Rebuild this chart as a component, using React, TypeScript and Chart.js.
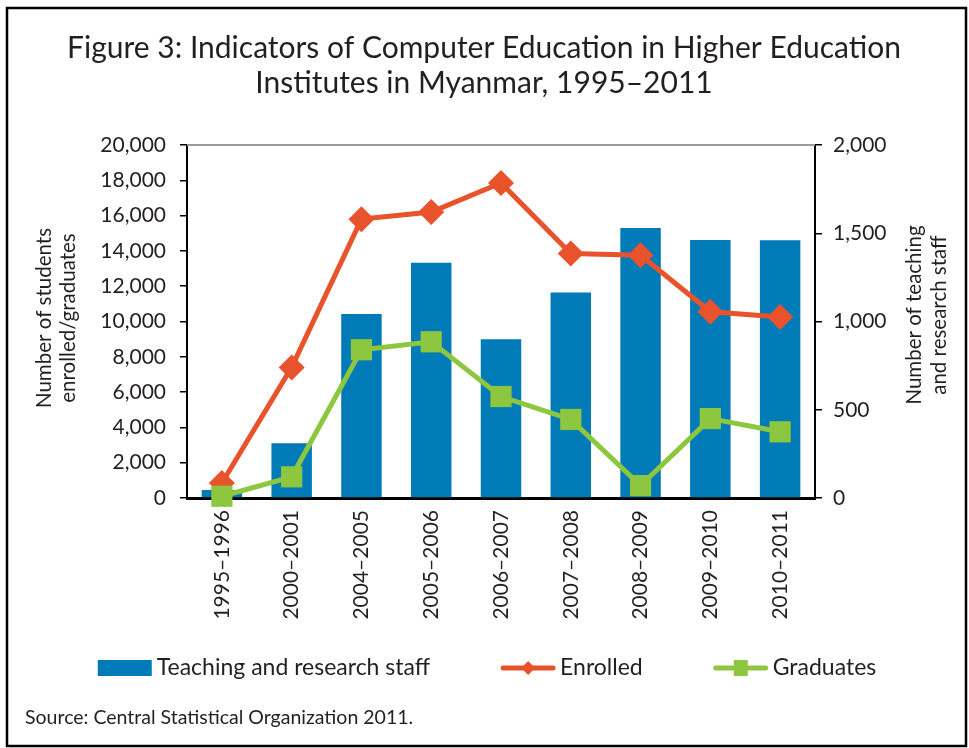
import React, { useEffect, useRef } from 'react';
import { Chart, registerables } from 'chart.js';

Chart.register(...registerables);

const categories = ['1995–1996', '2000–2001', '2004–2005', '2005–2006', '2006–2007', '2007–2008', '2008–2009', '2009–2010', '2010–2011'];
const staff = [45, 310, 1043, 1333, 900, 1165, 1530, 1462, 1460];
const enrolled = [850, 7400, 15800, 16200, 17850, 13850, 13750, 10550, 10250];
const graduates = [100, 1200, 8400, 8850, 5750, 4450, 700, 4500, 3750];

const leftMax = 20000;
const leftStep = 2000;
const rightMax = 2000;
const rightStep = 500;

const seriesNames = ['Teaching and research staff', 'Enrolled', 'Graduates'];
const titleLines = ['Figure 3: Indicators of Computer Education in Higher Education', 'Institutes in Myanmar, 1995–2011'];
const leftAxisTitle = ['Number of students', 'enrolled/graduates'];
const rightAxisTitle = ['Number of teaching', 'and research staff'];
const sourceText = 'Source: Central Statistical Organization 2011.';

const BLUE = '#007bb8';
const ORANGE = '#e8532b';
const GREEN = '#8dc63f';
const INK = '#231f20';
const FONT = 'Lato, "Open Sans", sans-serif';

const decorPlugin = {
  id: 'decor',
  afterDraw(chart: any) {
    const { ctx, chartArea } = chart;
    ctx.save();
    // frame
    ctx.strokeStyle = '#000';
    ctx.lineWidth = 2.5;
    ctx.strokeRect(7, 8, 959, 738);
    // gray top line of plot
    ctx.strokeStyle = '#9a9a9a';
    ctx.lineWidth = 2;
    ctx.beginPath();
    ctx.moveTo(chartArea.left, chartArea.top);
    ctx.lineTo(chartArea.right, chartArea.top);
    ctx.stroke();

    // title
    ctx.fillStyle = INK;
    ctx.font = `30px ${FONT}`;
    ctx.textAlign = 'center';
    ctx.textBaseline = 'alphabetic';
    ctx.fillText(titleLines[0], 484, 58);
    ctx.fillText(titleLines[1], 484, 93);

    // axis titles
    ctx.font = `20.5px ${FONT}`;
    ctx.textBaseline = 'middle';
    ctx.save();
    ctx.translate(44, 318);
    ctx.rotate(-Math.PI / 2);
    ctx.fillText(leftAxisTitle[0], 0, 0);
    ctx.fillText(leftAxisTitle[1], 0, 24);
    ctx.restore();
    ctx.save();
    ctx.translate(914, 315);
    ctx.rotate(-Math.PI / 2);
    ctx.fillText(rightAxisTitle[0], 0, 0);
    ctx.fillText(rightAxisTitle[1], 0, 25);
    ctx.restore();

    // legend
    const ly = 668;
    ctx.font = `23px ${FONT}`;
    const markW = 54;
    const gapText = 5;
    const gapItem = 71;
    const widths = seriesNames.map((n) => ctx.measureText(n).width);
    const total = widths.reduce((a, w) => a + markW + gapText + w, 0) + gapItem * 2;
    let x = 487 - total / 2;
    const ds = chart.data.datasets;
    seriesNames.forEach((name, i) => {
      const color = ds[i].borderColor || ds[i].backgroundColor;
      if (i === 0) {
        ctx.fillStyle = ds[0].backgroundColor;
        ctx.fillRect(x, ly - 8, markW, 16);
      } else {
        ctx.strokeStyle = color;
        ctx.lineWidth = 5;
        ctx.lineCap = 'round';
        ctx.beginPath();
        ctx.moveTo(x + 2, ly);
        ctx.lineTo(x + markW - 2, ly);
        ctx.stroke();
        ctx.fillStyle = color;
        const cx = x + markW / 2;
        if (i === 1) {
          ctx.beginPath();
          ctx.moveTo(cx - 7, ly);
          ctx.lineTo(cx, ly - 7);
          ctx.lineTo(cx + 7, ly);
          ctx.lineTo(cx, ly + 7);
          ctx.closePath();
          ctx.fill();
        } else {
          ctx.fillRect(cx - 7, ly - 8, 14, 16);
        }
      }
      ctx.fillStyle = INK;
      ctx.textAlign = 'left';
      ctx.textBaseline = 'middle';
      ctx.fillText(name, x + markW + gapText, ly);
      x += markW + gapText + widths[i] + gapItem;
    });

    // source
    ctx.font = `19.5px ${FONT}`;
    ctx.textAlign = 'left';
    ctx.textBaseline = 'middle';
    ctx.fillStyle = INK;
    ctx.fillText(sourceText, 25, 718);
    ctx.restore();
  },
};

export default function App() {
  const ref = useRef<HTMLCanvasElement | null>(null);
  useEffect(() => {
    document.body.style.margin = '0';
    const canvas = ref.current;
    if (!canvas) return;
    const chart = new Chart(canvas, {
      type: 'bar',
      data: {
        labels: categories,
        datasets: [
          {
            type: 'bar',
            label: seriesNames[0],
            data: staff,
            yAxisID: 'y1',
            backgroundColor: BLUE,
            barPercentage: 0.58,
            categoryPercentage: 1,
            order: 3,
          } as any,
          {
            type: 'line',
            label: seriesNames[1],
            data: enrolled,
            yAxisID: 'y',
            borderColor: ORANGE,
            backgroundColor: ORANGE,
            borderWidth: 5,
            pointStyle: 'rectRot',
            pointRadius: 13,
            pointBorderWidth: 0,
            pointBackgroundColor: ORANGE,
            clip: false,
            order: 2,
          } as any,
          {
            type: 'line',
            label: seriesNames[2],
            data: graduates,
            yAxisID: 'y',
            borderColor: GREEN,
            backgroundColor: GREEN,
            borderWidth: 5,
            pointStyle: 'rect',
            pointRadius: 15,
            pointBorderWidth: 0,
            pointBackgroundColor: GREEN,
            clip: false,
            order: 1,
          } as any,
        ],
      },
      options: {
        responsive: true,
        maintainAspectRatio: false,
        animation: false,
        events: [],
        layout: { padding: { top: 145, left: 10, right: 10, bottom: 0 } },
        plugins: {
          legend: { display: false },
          title: { display: false },
          tooltip: { enabled: false },
        },
        scales: {
          x: {
            grid: { display: false, drawTicks: false },
            border: { display: true, color: '#000', width: 3 },
            ticks: {
              minRotation: 90,
              maxRotation: 90,
              autoSkip: false,
              padding: 12,
              color: INK,
              font: { family: FONT, size: 21 },
            },
            afterFit: (s: any) => {
              s.height = 250;
            },
          },
          y: {
            position: 'left',
            min: 0,
            max: leftMax,
            ticks: {
              stepSize: leftStep,
              padding: 14,
              color: INK,
              font: { family: FONT, size: 21 },
              callback: (v: any) => Number(v).toLocaleString('en-US'),
            },
            grid: { drawOnChartArea: false, color: '#000', tickLength: 7, lineWidth: 1.5 },
            border: { display: true, color: '#000', width: 2 },
            afterFit: (s: any) => {
              s.width = 177;
            },
          },
          y1: {
            position: 'right',
            min: 0,
            max: rightMax,
            ticks: {
              stepSize: rightStep,
              padding: 11,
              color: INK,
              font: { family: FONT, size: 21 },
              callback: (v: any) => Number(v).toLocaleString('en-US'),
            },
            grid: { drawOnChartArea: false, color: '#000', tickLength: 7, lineWidth: 1.5 },
            border: { display: true, color: '#000', width: 2 },
            afterFit: (s: any) => {
              s.width = 144;
            },
          },
        },
      } as any,
      plugins: [decorPlugin],
    });
    return () => chart.destroy();
  }, []);
  return (
    <div style={{ position: 'relative', width: 969, height: 748, background: '#fff' }}>
      <canvas ref={ref} style={{ display: 'block' }} />
    </div>
  );
}
